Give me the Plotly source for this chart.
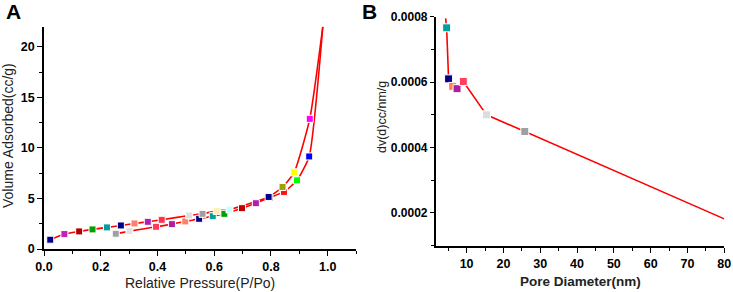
import plotly.graph_objects as go

# ---------------- Panel A: N2 isotherm ----------------
# lower branch (adsorption); last point is where the curve leaves the frame (no symbol)
ads_p = [0.253, 0.301, 0.395, 0.451, 0.498, 0.547, 0.595, 0.636, 0.698, 0.747,
         0.795, 0.846, 0.892, 0.935, 0.983]
ads_v = [1.51, 1.77, 2.20, 2.46, 2.73, 2.99, 3.25, 3.48, 4.04, 4.53,
         5.09, 5.65, 6.80, 9.16, 22.0]
ads_colors = ["#a0a0a0", "#e2e2e2", "#ff3a5c", "#b01ea0", "#ff7f62", "#00008b",
              "#00a0a0", "#00a000", "#c00000", "#b020b0", "#101010", "#ff1010",
              "#00ff00", "#0000ff"]

# upper branch (desorption)
des_p = [0.022, 0.072, 0.124, 0.171, 0.222, 0.271, 0.319, 0.366, 0.415, 0.512,
         0.559, 0.609, 0.654, 0.792, 0.841, 0.882, 0.937, 0.983]
des_v = [0.92, 1.48, 1.74, 1.94, 2.14, 2.33, 2.53, 2.69, 2.89, 3.32,
         3.48, 3.77, 3.91, 5.15, 6.14, 7.59, 12.88, 22.0]
des_colors = ["#00008b", "#c020c0", "#b00000", "#00a000", "#00a0a0", "#000090",
              "#ff7f6a", "#b020b0", "#ff3050", "#e0e0e0", "#a0a0a0", "#fff0b0",
              "#c8ffff", "#000090", "#a0a000", "#ffff00", "#ff00ff"]

# ---------------- Panel B: pore size distribution ----------------
pore_d = [4.3, 4.57, 5.1, 6.2, 7.4, 9.1, 15.4, 25.8, 80.0]
pore_dv = [0.000795, 0.000766, 0.000610, 0.000587, 0.000580, 0.000602,
           0.000500, 0.000449, 0.000182]
pore_colors = ["#00a0a0", "#00008b", "#ff7f62", "#b01ea0", "#ff4060",
               "#dcdcdc", "#a0a0a0"]

W, H = 733, 292
RED = "#ff0000"

fig = go.Figure()

# Panel A lines
for p, v in ((ads_p, ads_v), (des_p, des_v)):
    fig.add_trace(go.Scatter(x=p, y=v, mode="lines", xaxis="x", yaxis="y",
                             line=dict(color=RED, width=1.6, shape="spline", smoothing=0.5),
                             showlegend=False, hoverinfo="skip", cliponaxis=True))
# Panel A markers
for p, v, c in ((ads_p, ads_v, ads_colors), (des_p, des_v, des_colors)):
    fig.add_trace(go.Scatter(x=p[:-1], y=v[:-1], mode="markers", xaxis="x", yaxis="y",
                             marker=dict(symbol="square", size=7, color=c,
                                         line=dict(color="white", width=1)),
                             showlegend=False))

# Panel B
fig.add_trace(go.Scatter(x=pore_d, y=pore_dv, mode="lines", xaxis="x2", yaxis="y2",
                         line=dict(color=RED, width=1.6), showlegend=False))
fig.add_trace(go.Scatter(x=pore_d[1:-1], y=pore_dv[1:-1], mode="markers",
                         xaxis="x2", yaxis="y2",
                         marker=dict(symbol="square", size=8, color=pore_colors,
                                     line=dict(color="white", width=1)),
                         showlegend=False))

tickfont = dict(family="Liberation Sans, Arial", size=12.5, color="black", weight="bold")
axis_common = dict(showline=True, linecolor="black", linewidth=1.6, mirror=False,
                   showgrid=False, zeroline=False, ticks="outside", ticklen=5,
                   tickwidth=1.4, tickcolor="black", tickfont=tickfont, automargin=False)

fig.update_layout(
    width=W, height=H,
    margin=dict(l=0, r=0, t=0, b=0),
    paper_bgcolor="white", plot_bgcolor="white",
    xaxis=dict(axis_common, domain=[44 / W, 356 / W], range=[0, 1.1],
               tick0=0, dtick=0.2, tickformat=".1f", anchor="y",
               minor=dict(dtick=0.1, ticks="outside", ticklen=3, tickcolor="black", tickwidth=1.2)),
    yaxis=dict(axis_common, domain=[1 - 249 / H, 1 - 26.7 / H], range=[0, 22],
               tick0=0, dtick=5, anchor="x",
               minor=dict(dtick=2.5, ticks="outside", ticklen=3, tickcolor="black", tickwidth=1.2)),
    xaxis2=dict(axis_common, domain=[435.7 / W, 724.3 / W], range=[1.6, 80],
                tickvals=[10, 20, 30, 40, 50, 60, 70, 80], anchor="y2",
                minor=dict(tickvals=[5, 15, 25, 35, 45, 55, 65, 75], ticks="outside",
                           ticklen=3, tickcolor="black", tickwidth=1.2)),
    yaxis2=dict(axis_common, domain=[1 - 245.7 / H, 1 - 16.7 / H], range=[0.0001, 0.0008],
                tickvals=[0.0002, 0.0004, 0.0006, 0.0008],
                ticktext=["0.0002", "0.0004", "0.0006", "0.0008"], anchor="x2",
                tickfont=dict(tickfont, size=12), ticklen=4,
                minor=dict(tickvals=[0.0001, 0.0003, 0.0005, 0.0007], ticks="outside",
                           ticklen=3, tickcolor="black", tickwidth=1.2)),
)

title_font = dict(family="Liberation Sans, Arial", size=14, color="#222")
ann = [
    dict(text="A", x=13 / W, y=1 - 12 / H, font=dict(family="Liberation Sans, Arial", size=21,
                                                       color="black", weight="bold")),
    dict(text="B", x=369 / W, y=1 - 12 / H, font=dict(family="Liberation Sans, Arial", size=21,
                                                        color="black", weight="bold")),
    dict(text="Relative Pressure(P/Po)", x=200 / W, y=1 - 283 / H, font=title_font),
    dict(text="Volume Adsorbed(cc/g)", x=8 / W, y=1 - 136 / H, textangle=-90, font=title_font),
    dict(text="Pore Diameter(nm)", x=580 / W, y=1 - 281 / H,
         font=dict(family="Liberation Sans, Arial", size=13.5, color="#222", weight="bold")),
    dict(text="dv(d)cc/nm/g", x=382 / W, y=1 - 117 / H, textangle=-90,
         font=dict(family="Liberation Sans, Arial", size=12.5, color="#222")),
]
for a in ann:
    a.update(xref="paper", yref="paper", showarrow=False, xanchor="center", yanchor="middle")
fig.update_layout(annotations=ann)

fig.write_html("out.html",
               config={"displayModeBar": False},
               post_script="document.body.style.margin='0';document.body.style.padding='0';"
                           "document.documentElement.style.overflow='hidden';")
